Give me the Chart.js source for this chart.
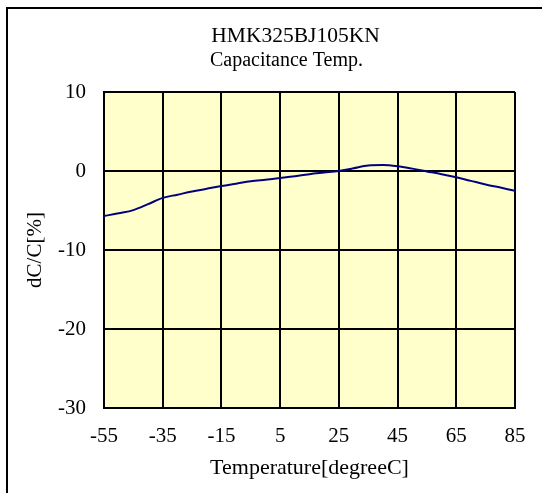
<!DOCTYPE html>
<html>
<head>
<meta charset="utf-8">
<script src="https://cdn.jsdelivr.net/npm/chart.js@4.4.0/dist/chart.umd.min.js"></script>
<style>
html,body{margin:0;padding:0;background:#fff;}
#wrap{width:542px;height:493px;}
</style>
</head>
<body>
<div id="wrap"><canvas id="c" width="542" height="493"></canvas></div>
<script>
const titleLines = ["HMK325BJ105KN", "Capacitance Temp."];
const xAxisTitle = "Temperature[degreeC]";
const yAxisTitle = "dC/C[%]";
const xTickValues = [-55, -35, -15, 5, 25, 45, 65, 85];
const yTickValues = [-30, -20, -10, 0, 10];
const temperatures = [-55,-50,-45,-40,-35,-30,-25,-20,-15,-10,-5,0,5,10,15,20,25,30,35,40,45,50,55,60,65,70,75,80,85];
const capChange = [-5.7,-5.35,-4.95,-4.2,-3.4,-3.0,-2.6,-2.25,-1.9,-1.6,-1.3,-1.1,-0.9,-0.65,-0.4,-0.2,0,0.35,0.7,0.75,0.6,0.3,-0.05,-0.4,-0.8,-1.25,-1.7,-2.1,-2.5];

const FONT = "'Liberation Serif','Times New Roman',serif";

const bgPlugin = {
  id: 'bg',
  beforeDraw(chart) {
    const {ctx, chartArea: a} = chart;
    ctx.save();
    ctx.fillStyle = '#FFFFCC';
    ctx.fillRect(a.left, a.top, a.right - a.left, a.bottom - a.top);
    ctx.restore();
  },
  afterDraw(chart) {
    const {ctx, chartArea: a} = chart;
    ctx.save();
    ctx.strokeStyle = '#000';
    ctx.lineWidth = 2;
    ctx.beginPath();
    ctx.moveTo(7, chart.height + 5);
    ctx.lineTo(7, 8);
    ctx.lineTo(chart.width + 5, 8);
    ctx.stroke();
    ctx.fillStyle = '#000';
    ctx.textAlign = 'center';
    ctx.textBaseline = 'middle';
    const cx = (a.left + a.right) / 2;
    ctx.font = '21.5px ' + FONT;
    ctx.fillText(titleLines[0], cx - 14, a.top - 56);
    ctx.font = '20px ' + FONT;
    ctx.fillText(titleLines[1], cx - 23, a.top - 31);
    ctx.restore();
  }
};

new Chart(document.getElementById('c'), {
  type: 'line',
  data: {
    datasets: [{
      data: temperatures.map((t, i) => ({x: t, y: capChange[i]})),
      borderColor: '#000080',
      borderWidth: 2,
      pointRadius: 0,
      cubicInterpolationMode: 'monotone',
      fill: false
    }]
  },
  options: {
    responsive: false,
    animation: false,
    devicePixelRatio: 1,
    layout: {padding: {left: 0, top: 92, right: 27, bottom: 0}},
    plugins: {legend: {display: false}, tooltip: {enabled: false}, title: {display: false}},
    scales: {
      x: {
        type: 'linear',
        min: -55, max: 85,
        afterBuildTicks: s => { s.ticks = xTickValues.map(v => ({value: v})); },
        afterFit: s => { s.height = 85; },
        grid: {color: '#000', lineWidth: 2, drawTicks: false},
        border: {display: true, color: '#000', width: 2},
        ticks: {color: '#000', font: {family: FONT, size: 21}, padding: 16, maxRotation: 0, autoSkip: false},
        title: {display: true, text: xAxisTitle, color: '#000', font: {family: FONT, size: 22}, padding: {top: 0, bottom: 12}}
      },
      y: {
        type: 'linear',
        min: -30, max: 10,
        afterBuildTicks: s => { s.ticks = yTickValues.map(v => ({value: v})); },
        afterFit: s => { s.width = 104; },
        grid: {color: '#000', lineWidth: 2, drawTicks: false},
        border: {display: true, color: '#000', width: 2},
        ticks: {color: '#000', font: {family: FONT, size: 21}, padding: 18, autoSkip: false},
        title: {display: true, text: yAxisTitle, color: '#000', font: {family: FONT, size: 21}, padding: {top: 23, bottom: 0}}
      }
    }
  },
  plugins: [bgPlugin]
});
</script>
</body>
</html>
